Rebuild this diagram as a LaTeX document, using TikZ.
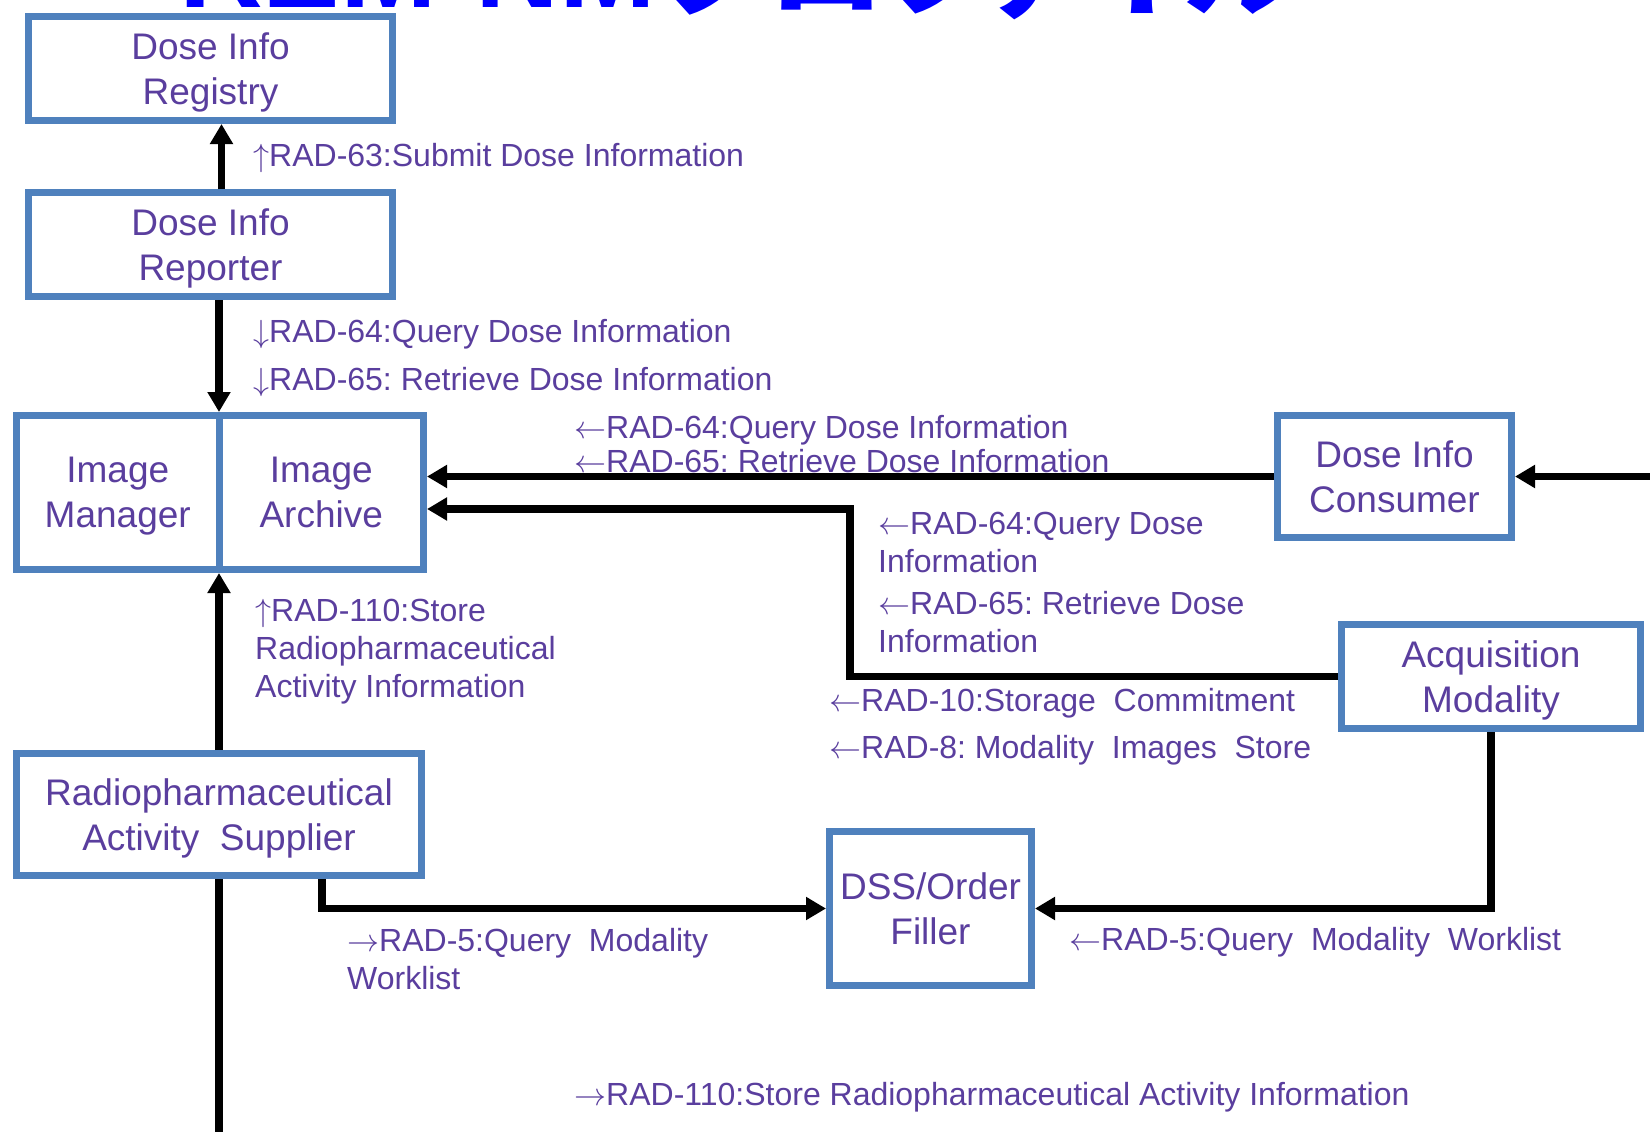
\RequirePackage{fix-cm}
\documentclass[tikz,border=0pt]{standalone}
\usepackage{fontspec}
\setmainfont{Liberation Sans}
\newfontfamily\jpfont{Noto Sans CJK JP}[RawFeature=+palt]
\usetikzlibrary{arrows.meta,calc}
\definecolor{boxblue}{RGB}{79,129,189}
\definecolor{txt}{RGB}{90,62,158}
\definecolor{ttlblue}{RGB}{0,0,255}
\frenchspacing
\newcommand{\tl}{$\leftarrow$}
\newcommand{\tr}{$\rightarrow$}
\newcommand{\tu}{$\uparrow$}
\newcommand{\td}{$\downarrow$}
\tikzset{
  actor/.style={draw=boxblue, line width=7pt, fill=white, text=txt,
    font=\fontsize{37}{45}\selectfont, align=center, inner sep=0pt, text depth=0pt},
  msg/.style={anchor=base west, inner sep=0pt, text=txt,
    font=\fontsize{32}{38}\selectfont, align=left},
  flow/.style={line width=7.5pt, -{Triangle[length=20pt,width=22pt]}},
  wire/.style={line width=7.5pt},
  ttl/.style={anchor=base west, inner sep=0pt, text=ttlblue,
    font=\fontsize{116}{120}\selectfont\bfseries},
}
\begin{document}
\begin{tikzpicture}[x=1pt,y=-1pt]
\fill[white] (0,0) rectangle (1650,1132);
\useasboundingbox (0,0) rectangle (1650,1132);

% title (runs off the top edge)
\begin{scope}
  \clip (0,0) rectangle (1650,1132);
  \node[ttl] (ttlA) at (179,8) {REM-NM};
  \node[ttl] (ttlB) at (660,8) {\jpfont\bfseries プロファイル};
\end{scope}

% actors
\node[actor, minimum width=364pt, minimum height=104pt] (reg) at (210.5,68.5) {Dose Info\\Registry};
\node[actor, minimum width=364pt, minimum height=104pt] (rep) at (210.5,244.5) {Dose Info\\Reporter};
\node[actor, minimum width=202.5pt, minimum height=154pt] (im) at (117.75,492.5) {Image\\Manager};
\node[actor, minimum width=204.5pt, minimum height=154pt] (ia) at (321.25,492.5) {Image\\Archive};
\node[actor, minimum width=234pt, minimum height=122pt] (con) at (1394.5,476.5) {Dose Info\\Consumer};
\node[actor, minimum width=299pt, minimum height=104pt] (acq) at (1491,676.5) {Acquisition\\Modality};
\node[actor, minimum width=405pt, minimum height=122pt] (sup) at (219,814.5) {Radiopharmaceutical\\Activity~~Supplier};
\node[actor, minimum width=202pt, minimum height=154pt] (dss) at (930.5,908.5) {DSS/Order\\Filler};

% helper points
\coordinate (divtop) at ($(im.north east)!.5!(ia.north west)$);
\coordinate (divbot) at ($(im.south east)!.5!(ia.south west)$);
\coordinate (elbow) at (850,509);
\coordinate (rin) at (1660,476.5);
\coordinate (sout) at (219,1145);

% transactions
\draw[flow] ([xshift=11pt]rep.north) -- ([xshift=11pt]rep.north |- reg.south);
\draw[flow] (rep.south -| divtop) -- (divtop);
\draw[flow] (sup.north) -- (sup.north |- divbot);
\draw[wire] (sup.south) -- (sout);
\draw[flow] (con.west) -- (con.west -| ia.east);
\draw[flow] (rin) -- (con.east);
\draw[flow] (acq.west) -| (elbow) -- (elbow -| ia.east);
\draw[flow] ([xshift=103pt]sup.south) |- (dss.west);
\draw[flow] (acq.south) |- (dss.east);

% transaction labels (multi-line labels are placed by their last baseline)
\node[msg] (m63) at (253,166) {\tu RAD-63:Submit Dose Information};
\node[msg] (m64a) at (253,342) {\td RAD-64:Query Dose Information};
\node[msg] (m65a) at (253,390) {\td RAD-65: Retrieve Dose Information};
\node[msg] (m64b) at (574,438) {\tl RAD-64:Query Dose Information};
\node[msg] (m65b) at (574,472) {\tl RAD-65: Retrieve Dose Information};
\node[msg] (m64c) at (878,572) {\tl RAD-64:Query Dose\\Information};
\node[msg] (m65c) at (878,652) {\tl RAD-65: Retrieve Dose\\Information};
\node[msg] (m10) at (829,711) {\tl RAD-10:Storage~~Commitment};
\node[msg] (m8) at (829,758) {\tl RAD-8: Modality~~Images~~Store};
\node[msg] (m110a) at (255,697) {\tu RAD-110:Store\\Radiopharmaceutical\\Activity Information};
\node[msg] (m5a) at (347,989) {\tr RAD-5:Query~~Modality\\Worklist};
\node[msg] (m5b) at (1069,950) {\tl RAD-5:Query~~Modality~~Worklist};
\node[msg] (m110b) at (574,1105) {\tr RAD-110:Store Radiopharmaceutical Activity Information};
\end{tikzpicture}
\end{document}
